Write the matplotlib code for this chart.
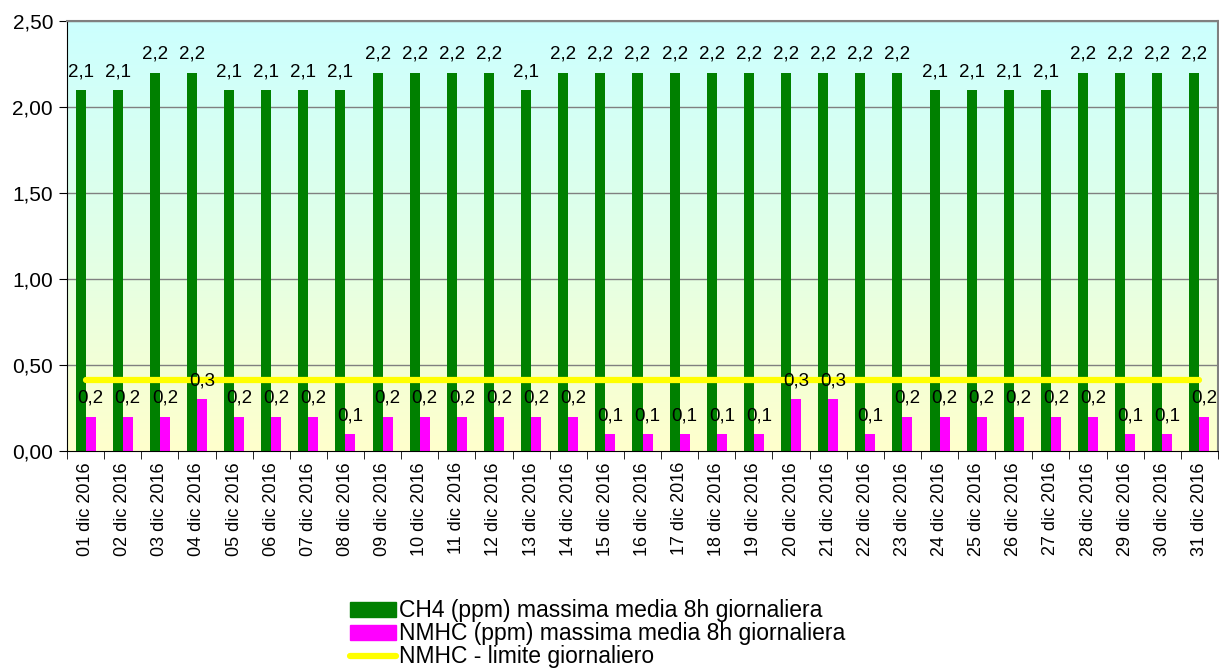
import numpy as np
import matplotlib
matplotlib.use("Agg")
import matplotlib.pyplot as plt
from matplotlib.colors import LinearSegmentedColormap
from matplotlib.patches import Patch
from matplotlib.lines import Line2D

plt.rcParams["font.family"] = ["Liberation Sans", "DejaVu Sans"]

giorni = ["%02d dic 2016" % d for d in range(1, 32)]
ch4 = [2.1, 2.1, 2.2, 2.2, 2.1, 2.1, 2.1, 2.1, 2.2, 2.2, 2.2, 2.2, 2.1, 2.2, 2.2, 2.2,
       2.2, 2.2, 2.2, 2.2, 2.2, 2.2, 2.2, 2.1, 2.1, 2.1, 2.1, 2.2, 2.2, 2.2, 2.2]
nmhc = [0.2, 0.2, 0.2, 0.3, 0.2, 0.2, 0.2, 0.1, 0.2, 0.2, 0.2, 0.2, 0.2, 0.2, 0.1, 0.1,
        0.1, 0.1, 0.1, 0.3, 0.3, 0.1, 0.2, 0.2, 0.2, 0.2, 0.2, 0.2, 0.1, 0.1, 0.2]
limite = [0.41] * 31

fig = plt.figure(figsize=(12.19, 6.69), dpi=100)
ax = fig.add_axes([67 / 1219, 1 - 451 / 669, (1218 - 67) / 1219, (451 - 21) / 669])

x = np.arange(len(giorni))
w = 0.27

# sfondo sfumato
cmap = LinearSegmentedColormap.from_list("bg", ["#FFFFCC", "#E0FFE8", "#CCFFFF"])
grad = np.linspace(0, 1, 256).reshape(-1, 1)
ax.imshow(grad, cmap=cmap, aspect="auto", origin="lower",
          extent=[-0.5, len(giorni) - 0.5, 0, 2.5], zorder=0)

for yv in np.arange(0.5, 2.51, 0.5):
    ax.axhline(yv, color="#808080", lw=1, zorder=1)

ax.bar(x - w / 2, ch4, w, color="#008000", zorder=2)
ax.bar(x + w / 2, nmhc, w, color="#FF00FF", zorder=2)
ax.plot(x, limite, color="#FFFF00", lw=4.5, solid_capstyle="round", zorder=3)

for xi, v in zip(x, ch4):
    ax.annotate(("%.1f" % v).replace(".", ","), (xi - w / 2, v), xytext=(0, 7),
                textcoords="offset points", ha="center", va="bottom", fontsize=13.5, zorder=4)
for xi, v in zip(x, nmhc):
    ax.annotate(("%.1f" % v).replace(".", ","), (xi + w / 2, v), xytext=(0, 7),
                textcoords="offset points", ha="center", va="bottom", fontsize=13.5, zorder=4)

ax.set_xlim(-0.5, len(giorni) - 0.5)
ax.set_ylim(0, 2.5)
ax.set_yticks(np.arange(0, 2.51, 0.5))
ax.set_yticklabels([("%.2f" % t).replace(".", ",") for t in np.arange(0, 2.51, 0.5)], fontsize=15)
ax.set_xticks(x)
ax.set_xticklabels(giorni, rotation=90, fontsize=13)
ax.set_xticks(np.arange(-0.5, len(giorni)), minor=True)
ax.tick_params(axis="x", which="major", length=0, pad=8)
ax.tick_params(axis="x", which="minor", length=6, direction="out", color="#000000")
ax.tick_params(axis="y", length=6, direction="out", pad=4)

for s in ["top", "right"]:
    ax.spines[s].set_color("#808080")
    ax.spines[s].set_linewidth(1.5)
for s in ["left", "bottom"]:
    ax.spines[s].set_color("#000000")

handles = [Patch(color="#008000"), Patch(color="#FF00FF"),
           Line2D([0], [0], color="#FFFF00", lw=4.5, solid_capstyle="round")]
labels = ["CH4 (ppm) massima media 8h giornaliera",
          "NMHC (ppm) massima media 8h giornaliera",
          "NMHC - limite giornaliero"]
fig.legend(handles, labels, loc="upper left", bbox_to_anchor=(339 / 1219, 1 - 588 / 669),
           frameon=False, fontsize=16.5, handlelength=2.0, handleheight=0.6,
           handletextpad=0.12, labelspacing=0.0, borderpad=0)

fig.savefig("out.png", dpi=100)
